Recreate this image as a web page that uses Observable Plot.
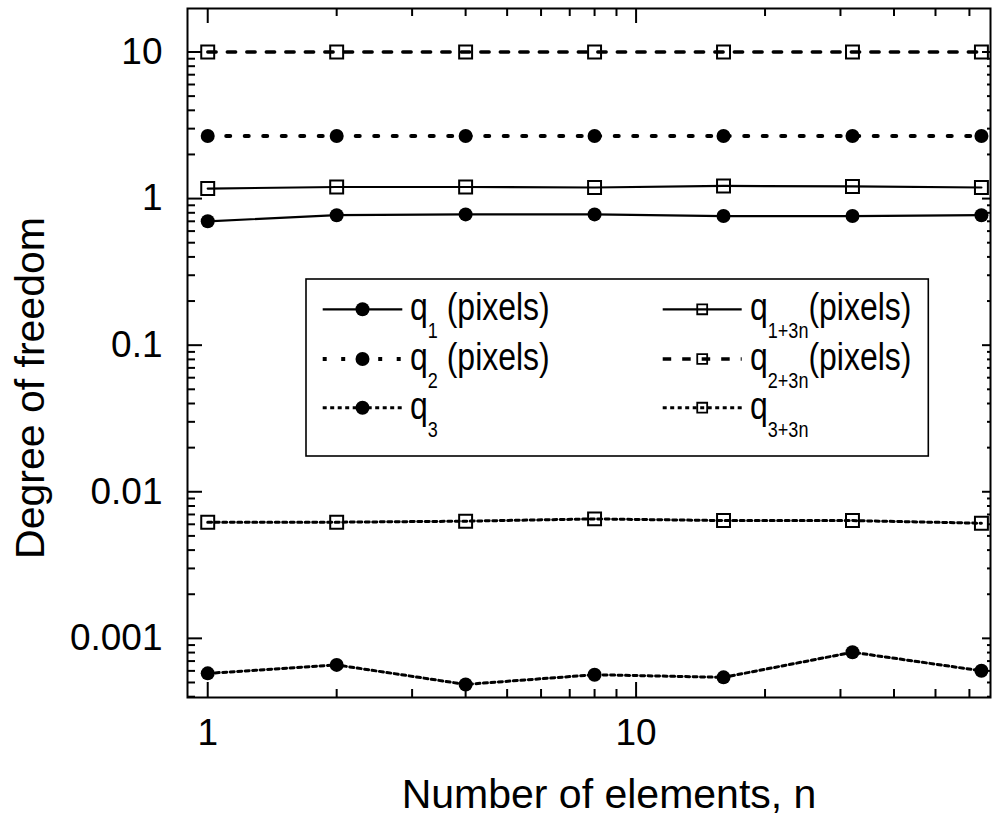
<!DOCTYPE html>
<html>
<head>
<meta charset="utf-8">
<script src="https://cdn.jsdelivr.net/npm/d3@7"></script>
<script src="https://cdn.jsdelivr.net/npm/@observablehq/plot@0.6"></script>
<style>
  body { margin: 0; background: #fff; }
  #chart { width: 993px; height: 820px; }
  svg text { white-space: pre; }
</style>
</head>
<body>
<div id="chart"></div>
<script>
// ---- data ----
const nValues = [1, 2, 4, 8, 16, 32, 64];
const q1    = [0.70, 0.77, 0.78, 0.78, 0.76, 0.76, 0.77];
const q2    = [2.67, 2.67, 2.67, 2.67, 2.67, 2.67, 2.67];
const q3    = [0.000577, 0.000659, 0.000485, 0.000565, 0.000542, 0.000804, 0.000601];
const q1_3n = [1.17, 1.20, 1.20, 1.19, 1.22, 1.21, 1.19];
const q2_3n = [10.0, 10.0, 10.0, 10.0, 10.0, 10.0, 10.0];
const q3_3n = [0.00619, 0.0062, 0.0063, 0.00653, 0.00636, 0.00636, 0.0061];

const seriesNames   = ["q1", "q2", "q3", "q1+3n", "q2+3n", "q3+3n"];
const legendSub     = ["1", "2", "3", "1+3n", "2+3n", "3+3n"];
const legendSuffix  = [" (pixels)", " (pixels)", "", "(pixels)", "(pixels)", ""];
const xTickLabels = [1, 10];
const xMinorTicks = [2, 3, 4, 5, 6, 7, 8, 9, 20, 30, 40, 50, 60];
const yTickLabels = [0.001, 0.01, 0.1, 1, 10];
const xTitle = "Number of elements, n";
const yTitle = "Degree of freedom";

// ---- layout / styles ----
const W = 993, H = 820, mL = 187, mR = 3, mT = 8, mB = 123;
const fw = W - mL - mR, fh = H - mT - mB;
const seriesValues = [q1, q2, q3, q1_3n, q2_3n, q3_3n];
const seriesMarker = ["circle", "circle", "circle", "square", "square", "square"];
const seriesDash   = [null, "4,14.5", "4,3.5", null, "8.5,11", "4,3.5"];
const seriesWidth  = [2.2, 4, 3, 2.2, 3.3, 3];

const rows = seriesNames.flatMap((s, k) =>
  nValues.map((n, i) => ({series: s, n, v: seriesValues[k][i]})));

const yMinorTicks = [];
for (let e = -4; e <= 1; e++) for (let m = 2; m <= 9; m++) {
  const v = +(m * Math.pow(10, e)).toPrecision(3);
  if (v >= 0.000395 && v <= 19.8) yMinorTicks.push(v);
}

const lineMarks = seriesNames.map((s, k) =>
  Plot.line(rows.filter(d => d.series === s), {
    x: "n", y: "v", stroke: "black",
    strokeWidth: seriesWidth[k],
    strokeDasharray: seriesDash[k] ?? undefined
  }));
const dotMarks = seriesNames.map((s, k) =>
  seriesMarker[k] === "circle"
    ? Plot.dot(rows.filter(d => d.series === s), {x: "n", y: "v", r: 7, fill: "black", symbol: "circle"})
    : Plot.dot(rows.filter(d => d.series === s), {x: "n", y: "v", r: 7.3, fill: "none", stroke: "black", strokeWidth: 2, symbol: "square"}));

const fmt = d => String(d);
const tk = {stroke: "black", strokeWidth: 2};
const xTicksIn = (data, len, side) => Plot.tickX(data, {...tk, x: d => d,
  ...(side === "bottom" ? {insetTop: fh - len} : {insetBottom: fh - len})});
const yTicksIn = (data, len, side) => Plot.tickY(data, {...tk, y: d => d,
  ...(side === "left" ? {insetRight: fw - len} : {insetLeft: fw - len})});

const plot = Plot.plot({
  width: W,
  height: H,
  marginLeft: mL,
  marginRight: mR,
  marginTop: mT,
  marginBottom: mB,
  style: {fontFamily: "'Liberation Sans', Arial, sans-serif", color: "black", background: "white"},
  x: {type: "log", domain: [0.897, 67.2]},
  y: {type: "log", domain: [0.000395, 19.8]},
  marks: [
    // inward ticks on all four sides
    xTicksIn(xTickLabels, 15, "bottom"),
    xTicksIn(xMinorTicks, 8, "bottom"),
    xTicksIn(xTickLabels, 15, "top"),
    xTicksIn(xMinorTicks, 8, "top"),
    yTicksIn(yTickLabels, 15, "left"),
    yTicksIn(yMinorTicks, 8, "left"),
    yTicksIn(yTickLabels, 8, "right"),
    yTicksIn(yMinorTicks, 3, "right"),
    ...lineMarks,
    ...dotMarks,
    // tick labels
    Plot.axisX(xTickLabels, {anchor: "bottom", tickSize: 0, tickPadding: 21, tickFormat: fmt, fontSize: 37, label: null}),
    Plot.axisY(yTickLabels, {anchor: "left", tickSize: 0, tickPadding: 25, tickFormat: fmt, fontSize: 37, label: null}),
    Plot.frame({stroke: "black", strokeWidth: 2}),
    // axis titles
    Plot.text([xTitle], {frameAnchor: "bottom", dx: 20, dy: 110, lineAnchor: "bottom", textAnchor: "middle", fontSize: 41, fill: "black"}),
    Plot.text([yTitle], {frameAnchor: "left", rotate: -90, dx: -143.7, dy: 35, lineAnchor: "bottom", textAnchor: "middle", fontSize: 41, fill: "black"})
  ]
});

document.getElementById("chart").appendChild(plot);

// ---- legend (drawn inside the plot's svg) ----
const svg = d3.select(plot);
const box = {x: 306, y: 279, w: 622.3, h: 177};
const lg = svg.append("g").attr("class", "legend").attr("text-anchor", "start");
lg.append("rect")
  .attr("x", box.x).attr("y", box.y).attr("width", box.w).attr("height", box.h)
  .attr("fill", "white").attr("stroke", "black").attr("stroke-width", 1.6);

const colX = [{l0: 322.7, l1: 402.3, t: 410}, {l0: 662.7, l1: 741.7, t: 750}];
const rowY = [309.3, 359, 407.7];
const squeeze = 0.82;

seriesNames.forEach((s, k) => {
  const c = colX[k < 3 ? 0 : 1];
  const y = rowY[k % 3];
  const g = lg.append("g");
  const line = g.append("line")
    .attr("x1", c.l0).attr("x2", c.l1).attr("y1", y).attr("y2", y)
    .attr("stroke", "black").attr("stroke-width", seriesWidth[k]);
  if (seriesDash[k]) line.attr("stroke-dasharray", seriesDash[k]);
  const mx = (c.l0 + c.l1) / 2;
  if (seriesMarker[k] === "circle") {
    g.append("circle").attr("cx", mx).attr("cy", y).attr("r", 7).attr("fill", "black");
  } else {
    g.append("path")
      .attr("transform", `translate(${mx},${y})`)
      .attr("d", d3.symbol(d3.symbolSquare, 5.6 * 5.6 * Math.PI)())
      .attr("fill", "none").attr("stroke", "black").attr("stroke-width", 1.8);
  }
  const t = g.append("g")
    .attr("transform", `translate(${c.t},${y + 11}) scale(${squeeze},1)`)
    .append("text").attr("font-size", 39).attr("fill", "black").attr("text-anchor", "start");
  t.append("tspan").text("q");
  t.append("tspan").attr("font-size", 22).attr("dy", 18).text(legendSub[k]);
  if (legendSuffix[k]) t.append("tspan").attr("font-size", 39).attr("dy", -18).text(legendSuffix[k]);
});
</script>
</body>
</html>
